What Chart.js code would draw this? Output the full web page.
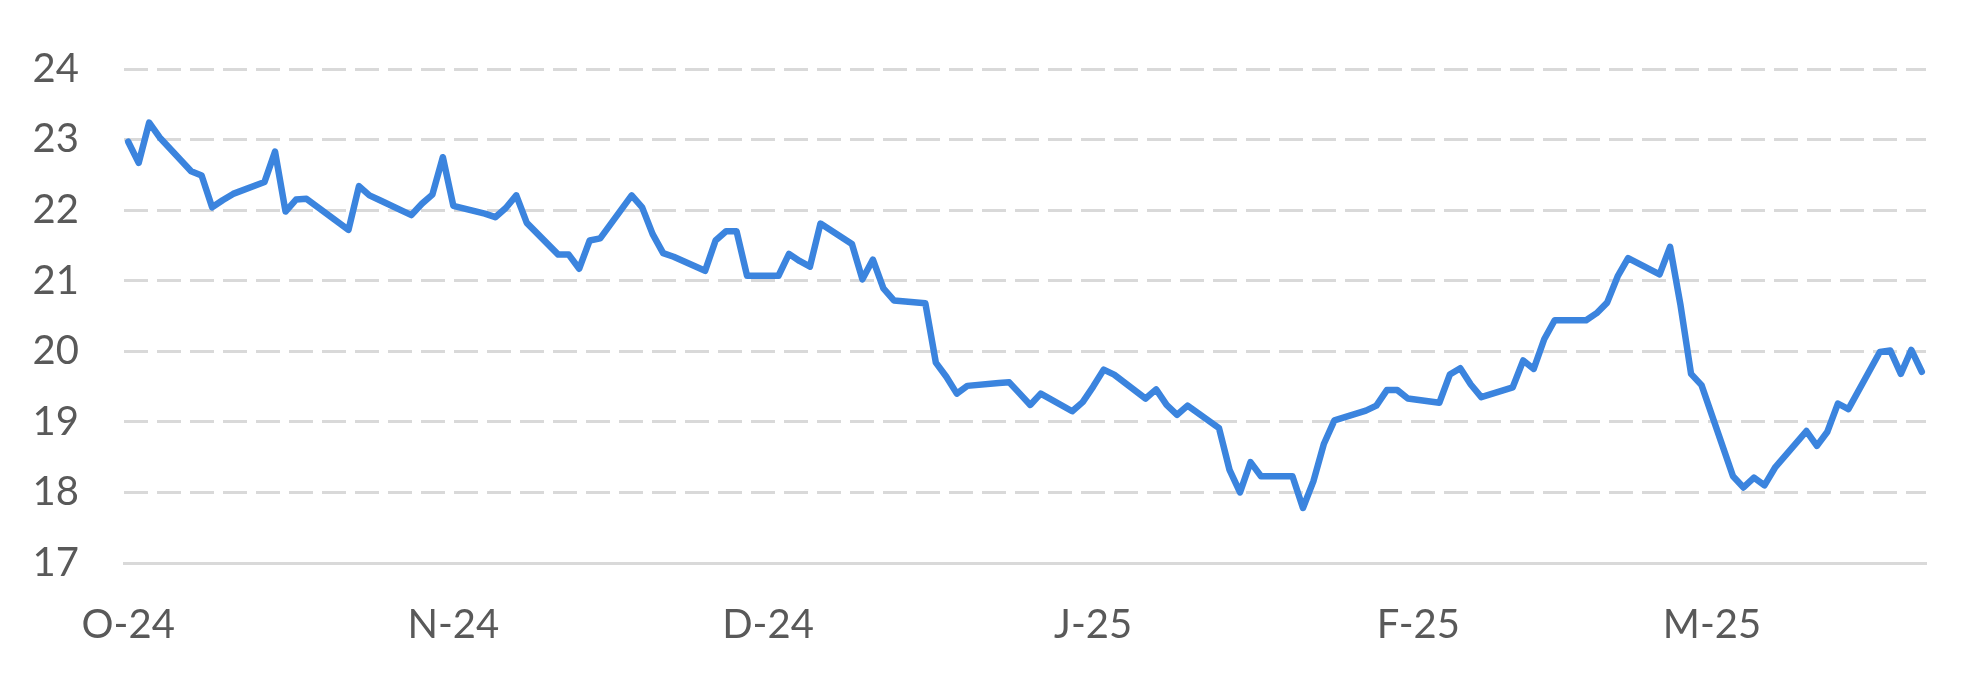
<!DOCTYPE html>
<html>
<head>
<meta charset="utf-8">
<script src="https://cdn.jsdelivr.net/npm/chart.js@4.4.1/dist/chart.umd.min.js"></script>
<style>
  html, body { margin: 0; padding: 0; background: #ffffff; }
  #wrap { width: 1977px; height: 681px; }
</style>
</head>
<body>
<div id="wrap"><canvas id="myChart" width="1977" height="681"></canvas></div>
<script>
// trading days, one list per month
var octDates = ["2024-10-01","2024-10-02","2024-10-03","2024-10-04","2024-10-07","2024-10-08","2024-10-09","2024-10-10","2024-10-11","2024-10-14","2024-10-15","2024-10-16","2024-10-17","2024-10-18","2024-10-21","2024-10-22","2024-10-23","2024-10-24","2024-10-25","2024-10-28","2024-10-29","2024-10-30","2024-10-31"];
var novDates = ["2024-11-01","2024-11-04","2024-11-05","2024-11-06","2024-11-07","2024-11-08","2024-11-11","2024-11-12","2024-11-13","2024-11-14","2024-11-15","2024-11-18","2024-11-19","2024-11-20","2024-11-21","2024-11-22","2024-11-25","2024-11-26","2024-11-27","2024-11-28","2024-11-29"];
var decDates = ["2024-12-02","2024-12-03","2024-12-04","2024-12-05","2024-12-06","2024-12-09","2024-12-10","2024-12-11","2024-12-12","2024-12-13","2024-12-16","2024-12-17","2024-12-18","2024-12-19","2024-12-20","2024-12-23","2024-12-24","2024-12-25","2024-12-26","2024-12-27","2024-12-30","2024-12-31"];
var janDates = ["2025-01-01","2025-01-02","2025-01-03","2025-01-06","2025-01-07","2025-01-08","2025-01-09","2025-01-10","2025-01-13","2025-01-14","2025-01-15","2025-01-16","2025-01-17","2025-01-20","2025-01-21","2025-01-22","2025-01-23","2025-01-24","2025-01-27","2025-01-28","2025-01-29","2025-01-30","2025-01-31"];
var febDates = ["2025-02-03","2025-02-04","2025-02-05","2025-02-06","2025-02-07","2025-02-10","2025-02-11","2025-02-12","2025-02-13","2025-02-14","2025-02-17","2025-02-18","2025-02-19","2025-02-20","2025-02-21","2025-02-24","2025-02-25","2025-02-26","2025-02-27","2025-02-28"];
var marDates = ["2025-03-03","2025-03-04","2025-03-05","2025-03-06","2025-03-07","2025-03-10","2025-03-11","2025-03-12","2025-03-13","2025-03-14","2025-03-17","2025-03-18","2025-03-19","2025-03-20","2025-03-21"];

// values
var octValues = [22.97, 22.67, 23.24, 23.03, 22.55, 22.49, 22.04, 22.14, 22.23, 22.40, 22.83, 21.98, 22.15, 22.16, 21.83, 21.72, 22.34, 22.21, 22.14, 21.93, 22.09, 22.22, 22.75];
var novValues = [22.06, 21.95, 21.90, 22.03, 22.21, 21.82, 21.37, 21.37, 21.17, 21.57, 21.60, 22.21, 22.04, 21.66, 21.39, 21.34, 21.14, 21.57, 21.70, 21.70, 21.07];
var decValues = [21.07, 21.38, 21.28, 21.20, 21.81, 21.52, 21.02, 21.30, 20.89, 20.72, 20.68, 19.84, 19.64, 19.40, 19.51, 19.55, 19.56, 19.40, 19.24, 19.40, 19.15, 19.28];
var janValues = [19.50, 19.74, 19.67, 19.33, 19.46, 19.24, 19.10, 19.23, 18.91, 18.32, 18.00, 18.43, 18.23, 18.23, 17.78, 18.16, 18.69, 19.02, 19.16, 19.23, 19.45, 19.45, 19.33];
var febValues = [19.27, 19.67, 19.76, 19.53, 19.35, 19.49, 19.87, 19.75, 20.17, 20.44, 20.44, 20.54, 20.69, 21.06, 21.32, 21.09, 21.48, 20.65, 19.68, 19.52];
var marValues = [18.23, 18.07, 18.21, 18.10, 18.35, 18.87, 18.66, 18.86, 19.26, 19.18, 19.99, 20.01, 19.68, 20.02, 19.71];

var tickDates = ["2024-10-01", "2024-11-01", "2024-12-01", "2025-01-01", "2025-02-01", "2025-03-01"];
var tickLabels = ["O-24", "N-24", "D-24", "J-25", "F-25", "M-25"];
var yTicks = [17, 18, 19, 20, 21, 22, 23, 24];

var dates = octDates.concat(novDates, decDates, janDates, febDates, marDates);
var values = octValues.concat(novValues, decValues, janValues, febValues, marValues);

// days since the first date, so the x axis behaves like a date axis
function dayNo(s) {
  var p = s.split("-");
  return (Date.UTC(+p[0], +p[1] - 1, +p[2]) - Date.UTC(2024, 9, 1)) / 86400000;
}

var points = dates.map(function (d, i) {
  return { x: dayNo(d), y: values[i] };
});
var tickDays = tickDates.map(dayNo);

var gridGrey = "#d9d9d9";
var textGrey = "#595959";
var labelFont = { family: "Lato, 'Open Sans', sans-serif", size: 40 };

var ctx = document.getElementById("myChart").getContext("2d");
var myChart = new Chart(ctx, {
  type: "line",
  data: {
    datasets: [
      {
        data: points,
        borderColor: "#3b84de",
        borderWidth: 6.5,
        borderJoinStyle: "round",
        borderCapStyle: "round",
        pointRadius: 0,
        tension: 0,
        fill: false,
      },
    ],
  },
  options: {
    responsive: false,
    animation: false,
    layout: { padding: { top: 51, right: 51, left: 0, bottom: 0 } },
    plugins: {
      legend: { display: false },
      tooltip: { enabled: false },
    },
    scales: {
      x: {
        type: "linear",
        min: -0.4,
        max: 171.4,
        afterBuildTicks: function (axis) {
          axis.ticks = tickDays.map(function (v) { return { value: v }; });
        },
        afterFit: function (axis) {
          axis.height = 118;
        },
        ticks: {
          autoSkip: false,
          maxRotation: 0,
          padding: 38,
          color: textGrey,
          font: labelFont,
          callback: function (value, index) {
            return tickLabels[index];
          },
        },
        grid: { display: false, drawTicks: false },
        border: { display: true, color: gridGrey, width: 3 },
      },
      y: {
        min: 17,
        max: 24,
        afterBuildTicks: function (axis) {
          axis.ticks = yTicks.map(function (v) { return { value: v }; });
        },
        afterFit: function (axis) {
          axis.width = 124;
        },
        ticks: {
          padding: 45,
          color: textGrey,
          font: labelFont,
        },
        grid: {
          drawTicks: false,
          lineWidth: 3,
          color: function (c) {
            return c.tick && c.tick.value === 17 ? "rgba(0,0,0,0)" : gridGrey;
          },
        },
        border: { display: false, dash: [24, 9] },
      },
    },
  },
});
</script>
</body>
</html>
